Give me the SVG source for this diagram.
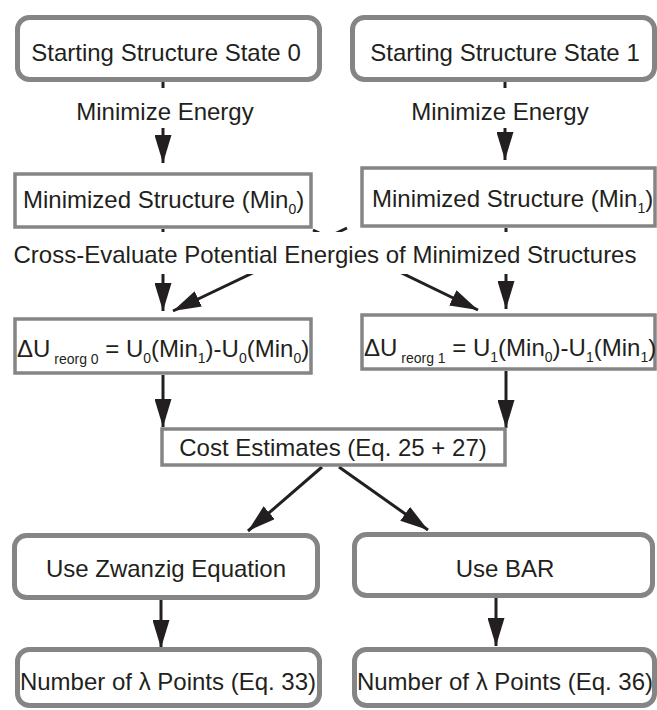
<svg xmlns="http://www.w3.org/2000/svg" width="657" height="710" viewBox="0 0 657 710">
<style>
text{font-family:"Liberation Sans",Arial,sans-serif;font-size:24px;fill:#231f20}
.c{text-anchor:middle}
.sub{font-size:14px}
.rbox{fill:#fff;stroke:#858585;stroke-width:5}
.box{fill:#fff;stroke:#858585;stroke-width:3.5}
.ln{stroke:#231f20;stroke-width:3;fill:none;marker-end:url(#ah)}
.bg{fill:#fff}
</style>
<defs>
<marker id="ah" viewBox="0 0 28 17" refX="28" refY="8.5" markerWidth="28" markerHeight="17" markerUnits="userSpaceOnUse" orient="auto">
<path d="M0,0 L28,8.5 L0,17 z" fill="#231f20"/>
</marker>
</defs>
<g id="connectors">
<line class="ln" x1="163" y1="82" x2="163" y2="163"/>
<line class="ln" x1="505" y1="82" x2="505" y2="160"/>
<line class="ln" x1="163" y1="229" x2="163" y2="311"/>
<line class="ln" x1="347" y1="228" x2="173" y2="311"/>
<line class="ln" x1="313" y1="230" x2="478" y2="310"/>
<line class="ln" x1="506" y1="228" x2="506" y2="309"/>
<line class="ln" x1="163" y1="375" x2="163" y2="427"/>
<line class="ln" x1="506" y1="371" x2="506" y2="428"/>
<line class="ln" x1="322" y1="467" x2="248" y2="531"/>
<line class="ln" x1="339" y1="467" x2="428" y2="530"/>
<line class="ln" x1="161" y1="600" x2="161" y2="648"/>
<line class="ln" x1="496" y1="598" x2="496" y2="646"/>
</g>
<g id="labels">
<rect class="bg" x="60" y="88" width="215" height="40"/>
<text class="c" x="165" y="120">Minimize Energy</text>
<rect class="bg" x="400" y="88" width="200" height="40"/>
<text class="c" x="500" y="120">Minimize Energy</text>
<rect class="bg" x="5" y="232" width="645" height="42"/>
<text class="c" x="325" y="263">Cross-Evaluate Potential Energies of Minimized Structures</text>
</g>
<g id="start0">
<rect class="rbox" x="17.5" y="17.5" width="302" height="62" rx="12"/>
<text class="c" x="166" y="61">Starting Structure State 0</text>
</g>
<g id="start1">
<rect class="rbox" x="352.5" y="17.5" width="302" height="62" rx="12"/>
<text class="c" x="505" y="61">Starting Structure State 1</text>
</g>
<g id="min0">
<rect class="box" x="15" y="174" width="296" height="53"/>
<text x="23" y="208">Minimized Structure (Min<tspan class="sub" dy="6">0</tspan><tspan dy="-6">)</tspan></text>
</g>
<g id="min1">
<rect class="box" x="362" y="168" width="293" height="58"/>
<text x="372" y="207">Minimized Structure (Min<tspan class="sub" dy="6">1</tspan><tspan dy="-6">)</tspan></text>
</g>
<g id="du0">
<rect class="box" x="15" y="319" width="296" height="54"/>
<text x="17" y="357">ΔU<tspan class="sub" dy="7"> reorg 0</tspan><tspan dy="-7"> = U</tspan><tspan class="sub" dy="6">0</tspan><tspan dy="-6">(Min</tspan><tspan class="sub" dy="6">1</tspan><tspan dy="-6">)-U</tspan><tspan class="sub" dy="6">0</tspan><tspan dy="-6">(Min</tspan><tspan class="sub" dy="6">0</tspan><tspan dy="-6">)</tspan></text>
</g>
<g id="du1">
<rect class="box" x="362" y="315" width="293" height="54"/>
<text x="364" y="356">ΔU<tspan class="sub" dy="7"> reorg 1</tspan><tspan dy="-7"> = U</tspan><tspan class="sub" dy="6">1</tspan><tspan dy="-6">(Min</tspan><tspan class="sub" dy="6">0</tspan><tspan dy="-6">)-U</tspan><tspan class="sub" dy="6">1</tspan><tspan dy="-6">(Min</tspan><tspan class="sub" dy="6">1</tspan><tspan dy="-6">)</tspan></text>
</g>
<g id="cost">
<rect class="box" x="162" y="429" width="343" height="36"/>
<text class="c" x="333" y="456">Cost Estimates (Eq. 25 + 27)</text>
</g>
<g id="zwanzig">
<rect class="rbox" x="14.5" y="535.5" width="303" height="62" rx="12"/>
<text class="c" x="166" y="577">Use Zwanzig Equation</text>
</g>
<g id="bar">
<rect class="rbox" x="354.5" y="534.5" width="298" height="61" rx="12"/>
<text class="c" x="505" y="577">Use BAR</text>
</g>
<g id="lambda0">
<rect class="rbox" x="17.5" y="649.5" width="302" height="56" rx="12"/>
<text class="c" x="168" y="690">Number of λ Points (Eq. 33)</text>
</g>
<g id="lambda1">
<rect class="rbox" x="354.5" y="649.5" width="300" height="56" rx="12"/>
<text class="c" x="505" y="690">Number of λ Points (Eq. 36)</text>
</g>
</svg>
